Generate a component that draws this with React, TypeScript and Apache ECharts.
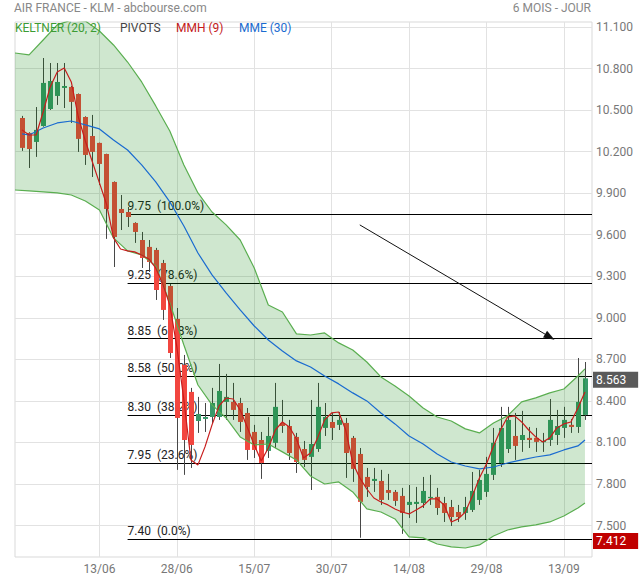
import React, { useEffect, useRef } from 'react';
import * as echarts from 'echarts';

// Trading days (first slot holds only the Keltner band, last slot is empty)
const dates = [
  '28/05', '29/05', '30/05', '31/05',
  '03/06', '04/06', '05/06', '06/06', '07/06', '10/06', '11/06', '12/06', '13/06', '14/06',
  '17/06', '18/06', '19/06', '20/06', '21/06', '24/06', '25/06', '26/06', '27/06', '28/06',
  '01/07', '02/07', '03/07', '04/07', '05/07', '08/07', '09/07', '10/07', '11/07', '12/07',
  '15/07', '16/07', '17/07', '18/07', '19/07', '22/07', '23/07', '24/07', '25/07', '26/07',
  '29/07', '30/07', '31/07',
  '01/08', '02/08', '05/08', '06/08', '07/08', '08/08', '09/08', '12/08', '13/08', '14/08',
  '15/08', '16/08', '19/08', '20/08', '21/08', '22/08', '23/08', '26/08', '27/08', '28/08',
  '29/08', '30/08',
  '02/09', '03/09', '04/09', '05/09', '06/09', '09/09', '10/09', '11/09', '12/09', '13/09',
  '16/09', '17/09', '18/09', '19/09',
];

// Candles: category index 1..81
const open = [
  10.443, 10.335, 10.270, 10.385, 10.508, 10.602, 10.660, 10.667, 10.616, 10.450,
  10.313, 10.263, 10.183, 9.981, 9.786, 9.764, 9.685, 9.562, 9.512, 9.490,
  9.396, 9.230, 8.992, 8.660, 8.465, 8.255, 8.270, 8.284, 8.284, 8.393,
  8.393, 8.385, 8.313, 8.176, 8.118, 8.039, 8.097, 8.241, 8.219, 8.140,
  8.053, 7.996, 8.053, 8.205, 8.248, 8.227, 8.241, 8.133, 8.017, 7.851,
  7.822, 7.822, 7.757, 7.743, 7.714, 7.649, 7.656, 7.663, 7.699, 7.707,
  7.663, 7.634, 7.598, 7.591, 7.613, 7.685, 7.743, 7.866, 7.952, 8.053,
  8.147, 8.118, 8.133, 8.133, 8.104, 8.118, 8.154, 8.205, 8.227, 8.212,
  8.299,
];
const close = [
  10.227, 10.219, 10.357, 10.696, 10.710, 10.703, 10.674, 10.559, 10.292, 10.176,
  10.198, 10.111, 9.786, 9.584, 9.757, 9.728, 9.620, 9.432, 9.403, 9.201,
  9.057, 8.746, 8.277, 8.118, 8.082, 8.306, 8.284, 8.385, 8.472, 8.429,
  8.335, 8.248, 8.046, 8.046, 7.952, 8.147, 8.357, 8.219, 8.024, 7.959,
  7.974, 8.089, 8.357, 8.284, 8.205, 8.263, 8.024, 7.909, 7.671, 7.779,
  7.837, 7.685, 7.736, 7.678, 7.591, 7.671, 7.671, 7.750, 7.707, 7.627,
  7.591, 7.562, 7.562, 7.634, 7.750, 7.829, 7.873, 8.097, 8.205, 8.263,
  8.075, 8.154, 8.118, 8.104, 8.111, 8.263, 8.219, 8.263, 8.212, 8.393,
  8.563,
];
const low = [
  10.205, 10.082, 10.162, 10.380, 10.501, 10.537, 10.515, 10.407, 10.198, 10.104,
  10.017, 9.959, 9.570, 9.367, 9.634, 9.656, 9.541, 9.360, 9.331, 9.129,
  8.985, 8.710, 7.902, 7.866, 7.916, 8.169, 8.176, 8.241, 8.263, 8.263,
  8.263, 8.176, 7.974, 7.988, 7.837, 7.988, 8.060, 8.169, 7.974, 7.880,
  7.923, 7.757, 8.032, 8.147, 8.118, 8.190, 7.844, 7.815, 7.412, 7.707,
  7.743, 7.649, 7.685, 7.642, 7.440, 7.555, 7.519, 7.627, 7.649, 7.577,
  7.526, 7.497, 7.526, 7.541, 7.598, 7.649, 7.707, 7.829, 7.923, 8.024,
  7.974, 8.032, 8.060, 8.032, 8.032, 8.075, 8.082, 8.133, 8.169, 8.169,
  8.263,
];
const high = [
  10.458, 10.340, 10.522, 10.876, 10.840, 10.840, 10.840, 10.674, 10.620, 10.455,
  10.465, 10.265, 10.185, 9.985, 9.887, 9.800, 9.690, 9.620, 9.562, 9.505,
  9.418, 9.245, 9.071, 8.732, 8.494, 8.429, 8.385, 8.494, 8.667, 8.595,
  8.530, 8.422, 8.349, 8.227, 8.176, 8.284, 8.530, 8.407, 8.263, 8.169,
  8.111, 8.407, 8.530, 8.385, 8.313, 8.320, 8.277, 8.147, 8.060, 7.916,
  7.916, 7.902, 7.873, 7.757, 7.772, 7.793, 7.779, 7.851, 7.866, 7.772,
  7.707, 7.685, 7.649, 7.707, 7.887, 7.902, 7.996, 8.205, 8.357, 8.357,
  8.313, 8.328, 8.212, 8.205, 8.169, 8.414, 8.335, 8.357, 8.270, 8.710,
  8.681,
];

// Keltner (20, 2) band, read at these category indices
const bandIdx = [
  0, 2, 4, 6, 8, 10, 12, 14, 16, 18, 20, 22, 24, 26, 28, 30, 32, 34, 36, 38,
  40, 42, 44, 46, 48, 50, 52, 54, 56, 58, 60, 62, 64, 66, 68, 70, 72, 74, 76, 78, 80, 81,
];
const keltnerUpper = [
  10.912, 10.898, 11.006, 11.115, 11.150, 11.143, 11.071, 10.970, 10.847, 10.703,
  10.530, 10.349, 10.104, 9.902, 9.764, 9.671, 9.562, 9.360, 9.093, 9.042,
  8.884, 8.876, 8.891, 8.819, 8.768, 8.681, 8.573, 8.508, 8.436, 8.349,
  8.284, 8.255, 8.198, 8.169, 8.241, 8.292, 8.393, 8.422, 8.458, 8.486, 8.580, 8.631,
];
const keltnerLower = [
  9.923, 9.916, 9.909, 9.902, 9.887, 9.844, 9.779, 9.577, 9.483, 9.454,
  9.375, 9.107, 8.804, 8.515, 8.371, 8.277, 8.140, 8.082, 8.089, 8.032,
  7.974, 7.858, 7.800, 7.815, 7.743, 7.620, 7.598, 7.548, 7.418, 7.411,
  7.367, 7.346, 7.338, 7.360, 7.425, 7.468, 7.490, 7.505, 7.526, 7.569, 7.627, 7.663,
];

// MME (30), read at these category indices
const mmeIdx = [
  1, 2, 4, 6, 8, 10, 12, 14, 16, 18, 20, 22, 24, 26, 28, 30, 32, 34, 36, 38,
  40, 42, 44, 46, 48, 50, 52, 54, 56, 58, 60, 62, 64, 66, 68, 70, 72, 74, 76, 78, 80, 81,
];
const mme = [
  10.328, 10.320, 10.371, 10.407, 10.421, 10.393, 10.364, 10.284, 10.212, 10.104,
  9.981, 9.837, 9.663, 9.468, 9.310, 9.180, 9.057, 8.941, 8.840, 8.761,
  8.689, 8.645, 8.580, 8.523, 8.458, 8.400, 8.313, 8.234, 8.147, 8.089,
  8.017, 7.959, 7.930, 7.909, 7.923, 7.952, 7.974, 7.995, 8.010, 8.046, 8.075, 8.118,
];

// MMH (9), one value per candle (category index 1..81)
const mmh = [
  10.357, 10.320, 10.320, 10.486, 10.667, 10.775, 10.804, 10.703, 10.450, 10.277,
  10.125, 9.974, 9.822, 9.577, 9.497, 9.483, 9.476, 9.454, 9.425, 9.360,
  9.245, 9.093, 8.790, 8.407, 7.974, 7.938, 8.068, 8.227, 8.364, 8.421,
  8.414, 8.335, 8.212, 8.082, 7.967, 8.060, 8.190, 8.248, 8.212, 8.125,
  7.988, 8.024, 8.133, 8.263, 8.313, 8.320, 8.190, 7.952, 7.844, 7.764,
  7.699, 7.670, 7.649, 7.620, 7.598, 7.584, 7.613, 7.642, 7.692, 7.692,
  7.649, 7.526, 7.548, 7.598, 7.714, 7.844, 7.945, 8.075, 8.190, 8.284,
  8.292, 8.248, 8.190, 8.140, 8.104, 8.133, 8.205, 8.234, 8.248, 8.349,
  8.465,
];

// Fibonacci pivots
const fibLevels = [9.75, 9.25, 8.85, 8.58, 8.3, 7.95, 7.4];
const fibPct = ['100.0%', '78.6%', '61.8%', '50.0%', '38.2%', '23.6%', '0.0%'];
const fibStartIdx = 16;

// Trend arrow (category index, value)
const arrowFrom = [49, 9.671];
const arrowTo = [76, 8.862];

const yTicks = [7.5, 7.8, 8.1, 8.4, 8.7, 9.0, 9.3, 9.6, 9.9, 10.2, 10.5, 10.8, 11.1];
const yMin = 7.273;
const yMax = 11.136;

const UP = '#39996a';
const DOWN = '#f2463f';
const FONT = 'Roboto, "Noto Sans", sans-serif';

const labelEvery = (i: number) => i >= 12 && (i - 12) % 11 === 0;

export default function App() {
  const ref = useRef<HTMLDivElement>(null);

  useEffect(() => {
    document.body.style.margin = '0';
    const chart = echarts.init(ref.current as HTMLDivElement, null, { renderer: 'svg' });

    const candleData = open.map((o, i) => [i + 1, o, close[i], low[i], high[i]]);
    const bandData = bandIdx.map((k, i) => [k, keltnerUpper[i], keltnerLower[i]]);
    const lastPrice = close[close.length - 1];
    const lowPrice = Math.min(...low);
    const lastIdx = dates.length - 1;

    const option: any = {
      animation: false,
      textStyle: { fontFamily: FONT },
      grid: {
        left: 15, right: 48, top: 22, bottom: 23,
        show: true, borderColor: '#d9d9d9', borderWidth: 1,
      },
      xAxis: {
        type: 'category',
        data: dates,
        boundaryGap: false,
        axisLine: { show: false },
        axisTick: { show: false },
        axisLabel: { interval: labelEvery, color: '#777', fontSize: 12, margin: 6, fontFamily: FONT },
        splitLine: { show: true, interval: labelEvery, lineStyle: { color: '#e2e2e2', width: 1 } },
      },
      yAxis: {
        type: 'value',
        position: 'right',
        min: yMin,
        max: yMax,
        axisLine: { show: false },
        axisTick: { show: false, customValues: yTicks },
        axisLabel: {
          customValues: yTicks,
          formatter: (v: number) => v.toFixed(3),
          color: '#777', fontSize: 12, lineHeight: 12, margin: 4, fontFamily: FONT,
        },
        splitLine: { show: true, lineStyle: { color: '#e2e2e2', width: 1 } },
      },
      graphic: [
        { type: 'text', left: 14, top: 2, z: 20, style: { text: 'AIR FRANCE - KLM - abcbourse.com', fill: '#888', font: `12px ${FONT}` } },
        { type: 'text', right: 49, top: 2, z: 20, style: { text: '6 MOIS - JOUR', fill: '#888', font: `12px ${FONT}` } },
        { type: 'text', left: 15, top: 22, z: 20, style: { text: 'KELTNER (20, 2)', fill: '#3c9c34', font: `12px ${FONT}` } },
        { type: 'text', left: 120, top: 22, z: 20, style: { text: 'PIVOTS', fill: '#444', font: `12px ${FONT}` } },
        { type: 'text', left: 176, top: 22, z: 20, style: { text: 'MMH (9)', fill: '#c41a1a', font: `12px ${FONT}` } },
        { type: 'text', left: 239, top: 22, z: 20, style: { text: 'MME (30)', fill: '#1a6bd0', font: `12px ${FONT}` } },
      ],
      series: [
        {
          name: 'candles',
          type: 'custom',
          z: 2,
          clip: true,
          encode: { x: 0, y: [1, 2, 3, 4] },
          data: candleData,
          renderItem: (params: any, api: any) => {
            const k = api.value(0);
            const o = api.value(1);
            const c = api.value(2);
            const l = api.value(3);
            const h = api.value(4);
            const pO = api.coord([k, o]);
            const pC = api.coord([k, c]);
            const pL = api.coord([k, l]);
            const pH = api.coord([k, h]);
            const w = Math.round(api.size([1, 0])[0] * 0.72);
            const x = Math.round(pO[0]) + 0.5;
            const top = Math.min(pO[1], pC[1]);
            const hgt = Math.max(Math.abs(pO[1] - pC[1]), 1.2);
            return {
              type: 'group',
              children: [
                { type: 'line', shape: { x1: x, y1: pH[1], x2: x, y2: pL[1] }, style: { stroke: '#474747', lineWidth: 1 } },
                { type: 'rect', shape: { x: x - w / 2, y: top, width: w, height: hgt }, style: { fill: c >= o ? UP : DOWN } },
              ],
            };
          },
        },
        {
          name: 'keltnerBand',
          type: 'custom',
          z: 3,
          clip: true,
          encode: { x: 0, y: [1, 2] },
          data: bandData,
          renderItem: (params: any, api: any) => {
            if (params.dataIndex !== 0) return null;
            const pts: number[][] = [];
            for (let i = 0; i < bandIdx.length; i++) pts.push(api.coord([bandIdx[i], keltnerUpper[i]]));
            for (let i = bandIdx.length - 1; i >= 0; i--) pts.push(api.coord([bandIdx[i], keltnerLower[i]]));
            return { type: 'polygon', shape: { points: pts }, style: { fill: 'rgba(0,130,0,0.19)' } };
          },
        },
        {
          name: 'keltnerUpper',
          type: 'line',
          z: 4,
          symbol: 'none',
          data: bandIdx.map((k, i) => [k, keltnerUpper[i]]),
          lineStyle: { color: '#5aae50', width: 1.2 },
          markLine: {
            silent: true,
            z: 1,
            symbol: 'none',
            animation: false,
            lineStyle: { color: '#000', width: 1, type: 'solid' },
            label: { position: 'insideStartTop', color: '#222', fontSize: 12, fontFamily: FONT, distance: [0, 2] },
            data: fibLevels.map((lv, i) => [
              { coord: [fibStartIdx, lv], label: { formatter: `${lv.toFixed(2)}  (${fibPct[i]})` } },
              { coord: [lastIdx, lv] },
            ]),
          },
        },
        {
          name: 'keltnerLower',
          type: 'line',
          z: 4,
          symbol: 'none',
          data: bandIdx.map((k, i) => [k, keltnerLower[i]]),
          lineStyle: { color: '#5aae50', width: 1.2 },
        },
        {
          name: 'MME (30)',
          type: 'line',
          z: 5,
          symbol: 'none',
          data: mmeIdx.map((k, i) => [k, mme[i]]),
          lineStyle: { color: '#1a6bd0', width: 1.2 },
        },
        {
          name: 'MMH (9)',
          type: 'line',
          z: 6,
          symbol: 'none',
          data: mmh.map((v, i) => [i + 1, v]),
          lineStyle: { color: '#c81c1c', width: 1.2 },
          markLine: {
            silent: true,
            z: 10,
            symbol: 'none',
            animation: false,
            data: [
              {
                yAxis: lastPrice,
                lineStyle: { color: 'transparent', width: 0 },
                label: {
                  position: 'end', distance: 1, formatter: lastPrice.toFixed(3),
                  backgroundColor: '#5a5a5a', color: '#fff', fontSize: 12, lineHeight: 13, fontFamily: FONT,
                  padding: [2, 12, 1, 3], offset: [0, 1],
                },
              },
              {
                yAxis: lowPrice,
                lineStyle: { color: 'transparent', width: 0 },
                label: {
                  position: 'end', distance: 1, formatter: lowPrice.toFixed(3),
                  backgroundColor: '#c00000', color: '#fff', fontSize: 12, lineHeight: 13, fontFamily: FONT,
                  padding: [2, 12, 1, 3], offset: [0, 3],
                },
              },
              [
                { coord: arrowFrom, symbol: 'none', lineStyle: { color: '#111', width: 1, type: 'solid' }, label: { show: false } },
                { coord: arrowTo, symbol: 'triangle', symbolSize: [8, 11] },
              ],
            ],
          },
        },
      ],
    };

    chart.setOption(option);
    return () => chart.dispose();
  }, []);

  return <div ref={ref} style={{ width: 640, height: 580 }} />;
}
